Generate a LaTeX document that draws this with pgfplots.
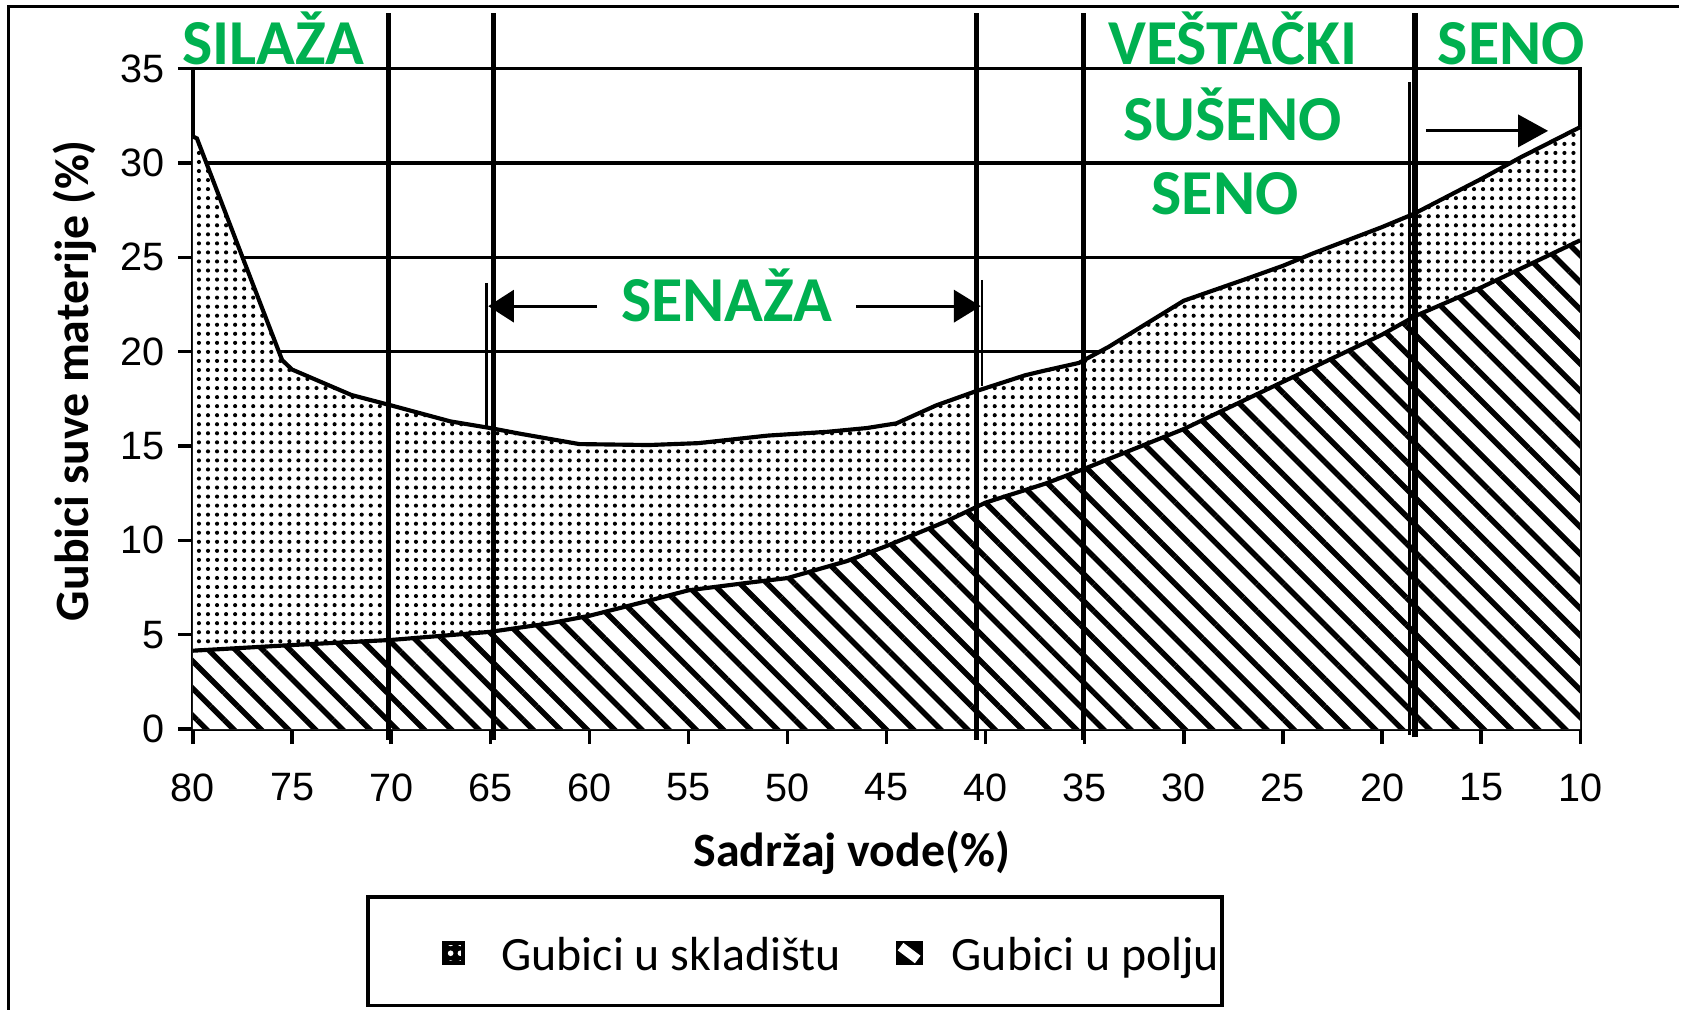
\documentclass[border=0pt]{standalone}
\usepackage{fontspec}
\setmainfont{Carlito}
\newfontfamily\tickfont{Liberation Sans}
\usepackage{pgfplots}
\usepackage{pgfplotstable}
\pgfplotsset{compat=1.18}
\usepgfplotslibrary{fillbetween}
\usetikzlibrary{patterns.meta,arrows.meta}
\definecolor{labgreen}{HTML}{00B050}

\pgfplotstableread{
x y
80 31.4
79.8 31.3
77.5 25.0
75.5 19.55
75 19.05
74 18.6
72 17.7
70 17.15
67 16.3
65 15.95
63.5 15.65
60.5 15.1
57 15.05
54.5 15.15
51 15.55
48 15.75
46 15.95
44.5 16.2
42.5 17.15
40.5 17.9
38 18.75
37 19.0
35.3 19.4
33.8 20.25
30 22.7
27 23.8
25 24.55
23.5 25.2
20 26.6
18.4 27.3
15 29.15
13 30.3
10 31.9
}\totaltable

\pgfplotstableread{
x y
80 4.15
75 4.45
70 4.72
65 5.15
62 5.6
60 6.0
57 6.8
55 7.35
52 7.75
50 8.0
47 8.9
45 9.7
42 11.0
40 12.0
37 13.0
35 13.8
30 15.9
25 18.4
20 20.9
18.3 21.9
15 23.4
10 25.9
}\fieldtable

\tikzset{green label/.style={text=labgreen, font=\bfseries\fontsize{17}{20}\selectfont, inner sep=0pt, anchor=base}}

\begin{document}
\begin{tikzpicture}
\path (0,0) rectangle (15.68,9.44);
\draw[line width=0.8pt] (0.075,0.02) -- (0.075,9.375) -- (15.66,9.375);
\begin{axis}[
  at={(1.80cm,2.64cm)}, anchor=south west,
  scale only axis, width=12.94cm, height=6.16cm,
  xmin=10, xmax=80, x dir=reverse, ymin=0, ymax=35,
  xtick={10,15,...,80}, ytick={0,5,...,35},
  tick pos=left, tick align=outside, major tick length=1.4mm,
  every tick/.style={black, line width=0.9pt},
  axis line style={line width=1pt},
  ymajorgrids, grid style={black, line width=0.9pt},
  tick label style={font=\tickfont\fontsize{10.5}{12}\selectfont},
  xticklabel style={yshift=-1.5mm},
  /pgf/number format/assume math mode=true,
  xlabel={Sadržaj vode(\%)}, ylabel={Gubici suve materije (\%)},
  label style={font=\bfseries\fontsize{12.7}{15}\selectfont},
  xlabel style={at={(axis description cs:0.475,-0.1867)}, anchor=center},
  ylabel style={at={(axis description cs:-0.085,0.5276)}, anchor=center},
  clip=false,
]
\addplot[name path=total, draw=none] table[x=x,y=y] {\totaltable};
\addplot[name path=field, draw=none] table[x=x,y=y] {\fieldtable};
\addplot[fill=white, draw=none] fill between[of=total and field];
\addplot[pattern={Dots[distance=2.4pt, radius=0.55pt]}, draw=none] fill between[of=total and field];
\addplot[fill=white, draw=none] table[x=x,y=y] {\fieldtable} \closedcycle;
\addplot[pattern={Lines[angle=-45, distance=5.1pt, line width=1.45pt]}, draw=none] table[x=x,y=y] {\fieldtable} \closedcycle;
\addplot[black, line width=1.1pt] table[x=x,y=y] {\totaltable};
\addplot[black, line width=1.1pt] table[x=x,y=y] {\fieldtable};

% thick vertical separators
\draw[line width=1.4pt] (axis cs:70.15,-0.57) -- (axis cs:70.15,37.95);
\draw[line width=1.4pt] (axis cs:64.85,-0.57) -- (axis cs:64.85,37.95);
\draw[line width=1.4pt] (axis cs:40.46,-0.57) -- (axis cs:40.46,37.95);
\draw[line width=1.4pt] (axis cs:35.05,-0.57) -- (axis cs:35.05,37.95);
\draw[line width=1.4pt] (axis cs:18.33,-0.45) -- (axis cs:18.33,37.95);
\draw[line width=0.9pt] (axis cs:18.6,-0.3) -- (axis cs:18.6,34.3);
% brackets and arrows
\draw[line width=0.7pt] (axis cs:65.18,23.64) -- (axis cs:65.18,15.9);
\draw[line width=0.7pt] (axis cs:40.19,23.8) -- (axis cs:40.19,18.2);
\draw[line width=0.8pt, -{Triangle[length=2.4mm,width=3mm]}] (axis cs:59.61,22.41) -- (axis cs:65.1,22.41);
\draw[line width=0.8pt, -{Triangle[length=2.5mm,width=3mm]}] (axis cs:46.52,22.41) -- (axis cs:40.25,22.41);
\draw[line width=0.8pt, -{Triangle[length=2.8mm,width=3mm]}] (axis cs:17.79,31.7) -- (axis cs:11.62,31.7);
% green labels
\node[green label] at (axis cs:75.94,35.23) {SILAŽA};
\node[green label] at (axis cs:27.54,35.23) {VEŠTAČKI};
\node[green label] at (axis cs:27.54,31.19) {SUŠENO};
\node[green label] at (axis cs:27.92,27.27) {SENO};
\node[green label] at (axis cs:13.48,35.23) {SENO};
\node[green label] at (axis cs:53.06,21.59) {SENAŽA};
\end{axis}
% legend
\draw[line width=1pt] (3.43,0.06) rectangle (11.40,1.07);
\fill[black] (4.12,0.44) rectangle (4.34,0.665);
\fill[pattern={Dots[distance=2.6pt, radius=0.75pt]}, pattern color=white] (4.16,0.48) rectangle (4.30,0.625);
\fill[black] (8.36,0.44) rectangle (8.61,0.665);
\draw[white, line width=2.5pt] (8.40,0.61) -- (8.56,0.49);
\node[anchor=base west, inner sep=0pt, font=\fontsize{12.7}{15}\selectfont] at (4.67,0.39) {Gubici u skladištu};
\node[anchor=base west, inner sep=0pt, font=\fontsize{12.7}{15}\selectfont] at (8.87,0.39) {Gubici u polju};
\end{tikzpicture}
\end{document}
